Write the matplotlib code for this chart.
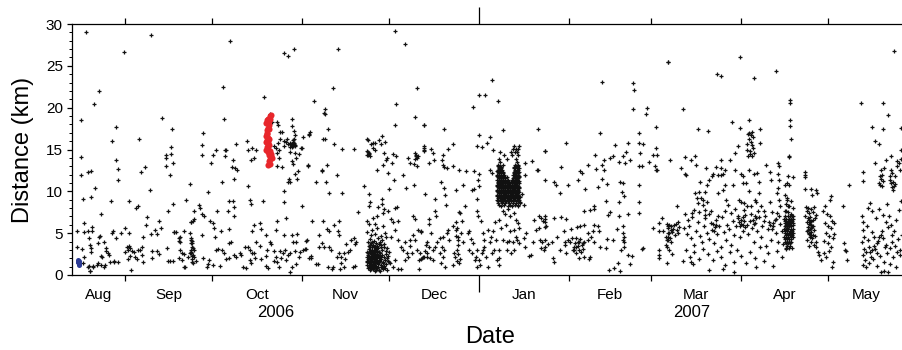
import numpy as np
import pandas as pd
import matplotlib
matplotlib.use("Agg")
import matplotlib.pyplot as plt
import matplotlib.dates as mdates

plt.rcParams["font.family"] = ["Liberation Sans", "DejaVu Sans"]

# event positions: (days after 2006-09-01, distance in km)
aug_sep_events = [
    (-13.3, 29.1), (8.9, 28.7), (-0.2, 26.7), (-8.8, 22.0), (-10.5, 20.4), (-15.2, 18.5), (-2.9, 17.7),
    (12.8, 18.8), (16.2, 17.4), (-4.6, 16.0), (4.8, 16.2), (15.8, 15.3), (15.8, 14.5), (14.2, 14.4),
    (14.2, 14.0), (16.6, 13.4), (14.3, 13.0), (15.7, 12.0), (-15.2, 14.1), (-15.2, 11.9), (-12.8, 12.3),
    (-11.8, 12.4), (-3.2, 13.8), (-2.4, 12.7), (-2.3, 11.3), (7.0, 12.9), (5.7, 12.3), (-10.4, 10.4),
    (8.8, 10.2), (22.4, 10.9), (-14.3, 9.1), (-11.6, 9.3), (-4.9, 8.9), (1.5, 8.8), (4.4, 8.3), (3.8, 8.0),
    (21.1, 9.0), (16.7, 8.5), (14.9, 7.7), (-8.2, 7.3), (7.7, 6.9), (-14.1, 6.2), (11.7, 6.4), (22.6, 6.3),
    (7.3, 6.0), (0.2, 5.6), (-16.4, 5.2), (-14.0, 5.1), (-12.7, 5.2), (-11.4, 5.2), (-11.4, 5.7), (-4.0, 5.2),
    (-4.5, 5.0), (-8.6, 4.7), (-8.9, 4.5), (-1.2, 5.0), (1.4, 5.0), (-2.9, 4.4), (10.4, 5.4), (12.5, 5.6),
    (8.9, 4.9), (11.0, 4.9), (16.9, 5.1), (17.7, 5.1), (20.2, 5.3), (19.0, 4.6), (18.7, 4.1), (6.1, 4.5),
    (-12.2, 4.4), (-16.4, 3.3), (-14.8, 3.1), (-11.9, 3.6), (-11.7, 3.2), (-11.8, 2.7), (-9.2, 3.8),
    (-7.2, 3.9), (-6.6, 3.2), (-6.4, 2.9), (-5.7, 2.6), (-5.4, 2.4), (-7.8, 2.1), (-8.3, 2.3), (-6.7, 1.2),
    (-8.1, 1.2), (-5.0, 1.5), (-3.8, 1.7), (-2.2, 1.5), (-9.4, 1.4), (-10.9, 1.0), (-12.4, 1.1), (-12.0, 0.5),
    (-14.1, 2.2), (-14.3, 1.4), (0.8, 3.4), (1.5, 3.5), (1.9, 3.2), (1.0, 3.0), (2.3, 2.9), (0.1, 2.7),
    (3.1, 2.7), (4.4, 3.0), (5.1, 3.0), (5.9, 3.4), (3.6, 2.1), (1.7, 2.3), (1.0, 1.9), (4.1, 1.9), (6.0, 2.4),
    (6.3, 1.5), (2.2, 0.6), (9.3, 2.9), (10.9, 2.9), (11.8, 2.5), (9.5, 2.0), (14.6, 3.2), (17.0, 5.1),
    (15.0, 1.7), (15.7, 1.7), (16.4, 1.7), (19.1, 3.0), (19.8, 2.6), (20.4, 2.5), (18.5, 2.0), (19.6, 1.8),
    (20.2, 1.0), (20.7, 0.9), (18.8, 4.0), (18.5, 4.4), (21.7, 2.2), (22.5, 2.6), (22.8, 3.0), (22.7, 4.2),
    (22.8, 3.8), (22.5, 5.0), (22.9, 6.3), (-12.7, 0.9), (-11.1, 1.1), (-9.5, 1.2), (-7.2, 1.0), (-3.9, 1.5),
    (-12.1, 0.5),
]

oct_events = [
    (36.2, 28.0), (54.9, 26.5), (56.2, 26.2), (58.2, 27.0), (33.8, 22.5), (47.8, 21.3), (34.1, 18.6),
    (27.0, 17.0), (26.5, 15.5), (26.5, 14.3), (31.2, 15.0), (30.5, 14.4), (29.5, 13.4), (34.3, 15.0),
    (34.8, 15.0), (34.4, 14.2), (38.2, 15.6), (37.2, 13.8), (37.0, 12.9), (37.8, 12.8), (38.7, 12.6),
    (37.4, 11.5), (42.0, 16.0), (43.6, 15.2), (42.5, 14.9), (43.4, 13.8), (44.5, 14.0), (45.2, 14.9),
    (49.9, 19.3), (50.6, 18.3), (52.3, 18.3), (52.8, 17.9), (53.5, 17.1), (54.0, 17.1), (53.5, 16.2),
    (52.7, 15.8), (51.2, 15.4), (52.1, 15.2), (53.0, 15.0), (52.3, 14.6), (53.2, 14.0), (52.3, 13.0),
    (54.0, 12.9), (54.7, 16.0), (55.4, 15.9), (55.9, 16.2), (54.9, 15.4), (56.3, 15.7), (56.9, 15.3),
    (57.7, 15.6), (58.2, 15.8), (58.7, 15.4), (57.8, 16.1), (58.3, 16.3), (57.6, 18.7), (57.6, 17.8),
    (58.2, 17.2), (58.5, 16.7), (56.7, 14.7), (58.5, 14.6), (59.9, 14.5), (61.0, 15.2), (59.0, 14.0),
    (57.4, 13.6), (58.0, 13.3), (56.4, 11.5), (56.0, 11.1), (56.9, 11.1), (58.5, 12.1), (59.3, 11.5),
    (59.5, 12.4), (63.1, 13.0), (63.3, 16.7), (61.4, 16.5), (60.7, 15.2), (57.2, 15.5), (57.5, 15.7),
    (57.9, 15.4), (58.1, 15.6), (57.4, 15.3), (58.0, 15.9), (57.0, 15.8), (58.4, 15.5),
    (33.5, 11.1), (28.6, 9.9), (42.5, 10.6), (35.7, 8.9), (37.2, 8.8), (42.9, 9.0), (43.3, 8.5), (47.5, 8.9),
    (54.7, 8.7), (54.7, 10.0), (60.9, 8.3), (37.6, 8.1), (31.7, 7.6), (35.6, 7.6), (25.5, 8.4), (25.9, 8.0),
    (23.9, 7.7), (26.4, 7.3), (27.1, 7.1), (23.9, 6.7), (23.4, 6.4), (29.4, 6.4), (30.3, 6.2), (30.8, 5.6),
    (26.4, 4.8), (33.0, 5.2), (31.0, 4.6), (36.0, 5.5), (37.6, 7.0), (44.3, 6.0), (46.6, 6.2), (43.6, 5.3),
    (46.7, 5.5), (48.6, 4.8), (52.1, 5.4), (55.5, 6.8), (52.3, 6.5), (54.8, 4.8), (57.5, 4.8), (59.3, 4.9),
    (62.4, 4.1), (58.8, 4.0), (22.8, 4.4), (23.2, 4.1), (23.0, 3.4), (23.7, 3.0), (22.6, 2.6), (23.2, 2.3),
    (23.9, 2.1), (23.0, 1.5), (24.4, 1.7), (26.9, 2.0), (28.3, 0.9), (28.8, 1.8), (30.3, 1.2), (31.2, 3.0),
    (32.2, 3.1), (33.5, 3.0), (34.2, 2.6), (34.7, 1.9), (36.0, 3.8), (36.6, 3.9), (35.7, 2.0), (37.6, 2.4),
    (38.3, 2.2), (39.5, 2.6), (40.1, 2.4), (41.2, 3.4), (42.5, 3.3), (43.1, 3.0), (43.6, 2.6), (42.9, 1.8),
    (43.4, 1.4), (44.5, 2.6), (44.8, 2.0), (45.3, 4.0), (46.4, 3.5), (46.8, 1.9), (48.4, 2.3), (48.9, 3.0),
    (49.8, 3.9), (50.2, 3.7), (51.3, 2.9), (51.9, 2.2), (52.3, 1.6), (53.3, 2.9), (53.6, 2.0), (54.4, 2.6),
    (55.1, 3.0), (55.5, 1.8), (56.2, 2.4), (56.7, 2.6), (57.4, 1.0), (58.0, 4.0), (58.7, 2.9), (60.0, 2.1),
    (60.3, 2.7), (61.2, 3.0), (62.2, 3.1), (63.3, 2.0), (57.0, 0.3), (48.6, 1.1), (41.8, 0.8), (49.3, 0.8),
    (59.0, 1.3), (52.9, 1.0), (51.2, 1.7), (32.6, 1.1), (28.7, 1.3), (40.6, 0.9), (23.0, 3.8), (23.4, 3.2),
    (22.9, 2.8), (23.5, 2.4), (23.1, 1.9), (23.6, 1.4),
]

red_events = [
    (49.8, 19.0), (50.3, 19.1), (50.1, 18.7), (49.4, 18.6), (49.0, 18.5), (49.6, 18.4), (48.7, 18.2),
    (49.2, 17.6), (48.8, 17.3), (49.5, 17.5), (49.0, 17.0), (48.6, 16.6), (49.3, 16.4), (48.9, 16.1),
    (49.6, 16.2), (48.5, 15.9), (49.1, 15.7), (49.7, 15.5), (48.8, 15.3), (49.4, 15.1), (48.6, 14.9),
    (49.2, 14.7), (49.9, 14.8), (49.5, 14.4), (50.4, 14.2), (50.1, 13.9), (49.6, 13.6), (49.9, 13.3),
    (49.3, 13.1), (50.6, 14.0), (50.2, 14.5), (48.9, 16.9), (49.7, 17.9), (49.3, 15.9),
]

blue_events = [(-15.7, 1.7), (-16.3, 1.5), (-15.9, 1.3), (-15.7, 1.2), (-16.1, 1.6), (-15.8, 1.4), (-16.0, 1.8)]

nov_events = [
    (93.1, 29.2), (96.4, 27.6), (73.2, 27.0), (71.6, 22.3), (100.4, 22.4), (65.1, 20.8), (93.4, 20.4),
    (68.8, 19.9), (68.4, 19.4), (69.0, 19.3), (99.8, 18.9), (92.9, 17.9), (102.9, 17.9), (69.9, 17.5),
    (63.8, 17.1), (63.4, 16.8), (68.2, 16.3), (69.0, 16.2), (71.9, 15.7), (74.7, 15.1), (78.9, 15.1),
    (63.0, 13.1), (67.9, 12.6), (68.0, 12.4), (69.7, 13.1), (73.1, 11.9), (65.9, 11.1), (69.1, 11.1),
    (70.1, 9.8), (74.8, 9.8), (82.2, 10.6), (83.4, 16.2), (83.8, 16.1), (83.4, 14.8), (84.1, 14.6),
    (83.7, 14.4), (84.4, 14.2), (84.8, 15.7), (85.5, 15.8), (86.2, 15.8), (87.3, 16.1), (88.5, 16.6),
    (89.6, 15.9), (85.4, 15.2), (86.0, 14.9), (88.0, 15.6), (89.2, 14.6), (90.1, 14.0), (88.7, 13.2),
    (86.9, 12.6), (89.9, 13.8), (91.9, 13.4), (90.4, 12.2), (92.6, 11.3), (95.8, 12.0), (91.0, 10.3),
    (96.7, 10.4), (99.5, 10.7), (92.4, 14.5), (93.4, 14.2), (97.4, 14.0), (98.3, 13.4), (99.6, 13.3),
    (100.4, 13.0), (99.8, 14.6), (100.3, 14.2), (100.8, 14.2), (102.8, 15.0), (103.1, 15.4), (83.6, 14.7),
    (83.9, 14.5), (83.5, 14.3), (100.1, 14.4), (100.5, 14.0), (99.9, 13.9), (84.1, 9.7), (84.5, 8.7),
    (83.9, 8.3), (88.5, 9.1), (88.5, 8.5), (87.1, 8.1), (89.2, 7.9), (90.5, 7.7), (92.8, 8.0), (93.7, 8.1),
    (80.2, 7.5), (64.4, 6.4), (68.2, 6.5), (73.8, 6.4), (83.4, 6.5), (85.4, 6.8), (86.9, 7.1), (88.9, 7.4),
    (86.2, 6.1), (84.1, 6.1), (91.7, 6.7), (92.3, 6.3), (94.0, 6.4), (99.0, 7.1), (99.7, 6.7), (102.0, 5.2),
    (100.8, 5.4), (98.3, 4.2), (99.1, 4.8), (69.7, 5.5), (70.1, 5.2), (72.0, 6.0), (73.4, 5.2), (73.7, 4.8),
    (66.7, 4.8), (62.8, 4.2), (68.0, 3.8), (68.5, 3.4), (66.9, 3.4), (70.8, 3.0), (70.4, 3.3), (64.2, 2.3),
    (64.0, 2.0), (65.9, 1.3), (66.5, 1.3), (69.9, 1.0), (71.3, 0.7), (71.6, 1.0), (73.7, 2.6), (74.3, 2.1),
    (75.4, 2.6), (75.9, 1.9), (77.4, 3.0), (77.9, 4.2), (78.9, 4.4), (79.1, 3.7), (79.7, 3.9), (79.1, 1.1),
    (78.4, 1.0), (76.8, 2.7), (76.2, 3.7), (74.5, 1.4), (75.3, 1.0), (74.0, 0.7), (72.9, 2.2), (62.1, 3.1),
    (91.7, 4.6), (93.1, 5.4), (94.0, 4.2), (95.1, 3.4), (95.8, 3.0), (96.3, 3.9), (97.0, 2.6), (97.6, 2.2),
    (98.0, 3.5), (98.8, 2.6), (99.7, 4.2), (100.4, 3.0), (101.1, 1.8), (102.2, 2.0), (102.9, 2.1),
    (101.4, 0.7), (94.0, 0.7), (95.1, 0.7), (92.3, 1.0), (91.1, 1.4), (96.3, 1.8), (92.8, 1.8),
]

nov_swarm = [
    (83.6, 0.8), (84.2, 0.6), (84.9, 0.9), (85.5, 0.7), (86.1, 0.5), (86.8, 0.8), (87.4, 0.6), (88.0, 0.9),
    (88.7, 0.7), (89.5, 0.8), (90.3, 0.6), (84.5, 1.0), (86.4, 1.0), (87.9, 0.5), (83.2, 1.2), (83.9, 1.4),
    (84.4, 1.1), (84.8, 1.3), (85.3, 1.5), (85.8, 1.2), (86.2, 1.4), (86.6, 1.1), (87.1, 1.3), (87.6, 1.5),
    (88.2, 1.2), (88.8, 1.4), (89.3, 1.1), (90.0, 1.3), (90.8, 1.5), (85.0, 1.1), (86.9, 1.5), (88.5, 1.0),
    (83.4, 1.7), (83.8, 1.9), (84.3, 1.6), (84.7, 1.8), (85.1, 2.0), (85.6, 1.7), (86.0, 1.9), (86.5, 1.6),
    (86.9, 1.8), (87.3, 2.0), (87.8, 1.7), (88.3, 1.9), (88.9, 1.6), (89.4, 1.8), (90.1, 2.0), (90.7, 1.7),
    (84.0, 2.0), (85.9, 1.5), (83.3, 2.2), (83.7, 2.4), (84.1, 2.3), (84.6, 2.5), (85.0, 2.2), (85.5, 2.4),
    (85.9, 2.6), (86.3, 2.2), (86.8, 2.5), (87.2, 2.3), (87.7, 2.6), (88.1, 2.2), (88.6, 2.4), (89.2, 2.1),
    (89.8, 2.5), (90.5, 2.3), (84.9, 2.6), (86.6, 2.1), (83.5, 2.8), (84.0, 3.1), (84.4, 2.9), (84.9, 3.3),
    (85.3, 2.8), (85.8, 3.0), (86.2, 3.4), (86.7, 2.9), (87.1, 3.2), (87.6, 2.8), (88.0, 3.3), (88.6, 3.0),
    (89.1, 3.4), (89.7, 2.9), (90.3, 3.2), (91.0, 2.8), (83.9, 3.5), (85.4, 3.6), (83.6, 3.9), (84.3, 4.3),
    (84.8, 3.8), (85.6, 4.1), (86.4, 3.8), (87.0, 4.4), (87.8, 3.9), (88.5, 4.2), (89.2, 3.7), (90.0, 4.5),
    (84.7, 4.8), (86.2, 4.9), (88.2, 4.7), (89.6, 5.0), (85.1, 5.4), (86.8, 5.6), (88.9, 5.8), (83.2, 5.1),
    (84.6, 1.5), (85.2, 1.9), (85.7, 2.1), (86.1, 2.8), (84.2, 2.7), (85.5, 1.3), (86.4, 2.4), (84.8, 2.1),
    (85.0, 1.7), (86.0, 1.0), (84.0, 1.6), (85.8, 2.8), (83.9, 0.9), (84.7, 0.7), (85.2, 1.2), (85.9, 0.8),
    (86.6, 0.6), (87.1, 1.0), (83.5, 1.5), (84.1, 1.2), (84.5, 2.0), (85.3, 2.3), (85.7, 1.6), (86.3, 1.8),
    (86.9, 2.2), (87.4, 1.7), (83.8, 2.6), (84.3, 3.3), (85.0, 3.0), (85.6, 3.3), (86.0, 2.4), (86.5, 3.1),
    (87.3, 2.7), (87.9, 2.4), (84.5, 3.6), (85.2, 3.9), (86.0, 3.5), (86.8, 3.5), (87.4, 3.7), (88.3, 3.6),
]

dec_jan_events = [
    (126.3, 23.3), (121.8, 21.5), (123.9, 21.5), (128.3, 20.8), (119.8, 20.1), (102.9, 17.9), (109.8, 17.5),
    (130.0, 17.3), (142.1, 17.4), (121.8, 16.7), (125.8, 16.5), (112.9, 15.6), (121.3, 15.4), (122.8, 15.3),
    (124.5, 15.8), (102.8, 15.2), (102.8, 14.8), (105.2, 15.1), (106.0, 14.6), (109.5, 14.4), (109.3, 13.8),
    (109.6, 13.1), (110.0, 12.9), (110.8, 12.8), (104.6, 13.4), (106.4, 13.7), (111.1, 15.1), (113.0, 13.0),
    (115.1, 12.5), (117.4, 12.4), (120.3, 12.4), (121.8, 12.1), (125.7, 12.5), (126.4, 12.2), (126.8, 14.9),
    (129.1, 14.7), (144.5, 14.8), (144.6, 11.3), (141.7, 12.6), (142.2, 12.5), (140.0, 13.6), (137.8, 13.4),
    (137.6, 12.0), (136.8, 9.7), (136.1, 8.7), (137.5, 8.4), (108.8, 11.1), (109.8, 10.4), (110.3, 9.6),
    (113.9, 10.1), (116.3, 10.7), (119.4, 10.2), (120.0, 10.3), (121.7, 11.4), (121.8, 10.6), (103.3, 9.7),
    (106.7, 9.1), (110.4, 8.4), (117.1, 8.3), (121.1, 9.1), (121.1, 7.6), (121.6, 7.1),
    (130.0, 7.7), (131.0, 7.3), (131.9, 7.9), (132.6, 7.0), (134.0, 7.4), (134.6, 6.6), (135.3, 6.2),
    (135.8, 5.6), (133.9, 5.4), (132.6, 5.2), (131.2, 6.0), (128.9, 6.6), (129.4, 5.6), (127.5, 6.3),
    (126.8, 5.2), (124.9, 5.4), (123.2, 5.0), (122.6, 6.4), (123.7, 4.2), (125.5, 4.0), (126.0, 4.6),
    (127.7, 4.2), (128.9, 3.0), (130.0, 4.2), (131.4, 4.0), (132.3, 4.1), (133.5, 3.9), (134.6, 4.5),
    (135.0, 4.2), (135.8, 3.8), (134.0, 3.0), (132.9, 2.6), (131.4, 3.0), (128.9, 2.0), (127.2, 3.0),
    (126.4, 2.6), (128.0, 1.8), (123.4, 3.0), (122.9, 2.6), (122.0, 1.8), (122.2, 1.2), (121.3, 0.9),
    (120.4, 1.8), (119.3, 2.6), (118.4, 3.0), (118.6, 5.3), (116.1, 6.4), (115.4, 7.4), (114.9, 7.5),
    (114.0, 6.3), (113.8, 5.4), (112.9, 5.8), (113.8, 4.7), (114.6, 4.2), (115.7, 5.0), (116.3, 4.0),
    (114.2, 3.0), (113.3, 2.6), (113.5, 2.1), (112.9, 1.2), (114.9, 1.4), (115.4, 1.9), (111.3, 5.4),
    (110.8, 5.0), (111.7, 4.2), (109.4, 4.6), (108.3, 4.4), (107.4, 3.9), (106.7, 3.3), (106.0, 3.0),
    (104.6, 3.4), (103.9, 4.0), (105.3, 5.0), (107.1, 7.0), (106.9, 7.7), (104.8, 6.7), (104.8, 6.1),
    (102.0, 5.1), (101.6, 2.6), (102.5, 2.1), (102.0, 1.9), (103.9, 2.6), (105.1, 2.0), (106.2, 1.8),
    (108.5, 2.6), (109.2, 3.4), (110.0, 3.0), (109.6, 2.1), (108.7, 1.4), (110.1, 1.0), (118.0, 5.0),
    (119.2, 4.3), (119.7, 3.8), (121.1, 3.0), (120.9, 2.2), (124.3, 2.1), (124.9, 1.0), (128.9, 1.2),
    (123.7, 3.4), (139.2, 2.3), (139.8, 2.4), (142.6, 7.1), (143.2, 6.8), (143.8, 6.4), (142.4, 5.6),
    (142.9, 4.2), (143.6, 3.9), (144.4, 3.0), (143.1, 3.2), (144.7, 6.7), (144.9, 5.8), (140.9, 6.6),
    (141.5, 5.4), (140.6, 4.0), (138.1, 5.0), (137.5, 4.4), (137.8, 3.4), (114.5, 3.6), (114.7, 4.6),
    (114.3, 5.6), (114.8, 2.5), (114.4, 1.7), (103.2, 2.9), (103.6, 3.6), (104.0, 2.2),
]

# January swarm, grouped by distance (km): list of days
jan_swarm_rows = [
    (8.2, [129.5, 131.8, 133.2, 135.4]),
    (8.4, [128.9, 130.4, 132.6, 134.1, 135.2]),
    (8.6, [128.4, 129.9, 130.8, 132.1, 133.6, 134.7, 135.9]),
    (8.8, [128.3, 129.4, 130.2, 131.1, 132.0, 132.9, 133.7, 134.5, 135.3]),
    (9.0, [128.1, 129.0, 129.7, 130.5, 131.4, 132.3, 133.0, 133.9, 134.8, 135.6]),
    (9.15, [128.4, 129.4, 130.2, 131.0, 131.8, 132.7, 133.5, 134.4, 135.3]),
    (9.3, [128.6, 129.3, 130.1, 130.9, 131.7, 132.6, 133.4, 134.2, 135.1, 136.0]),
    (9.45, [128.2, 129.0, 129.8, 130.6, 131.4, 132.2, 133.0, 133.9, 134.8, 135.6]),
    (9.6, [128.2, 128.9, 129.6, 130.4, 131.2, 132.0, 132.8, 133.7, 134.5, 135.3]),
    (9.75, [128.6, 129.4, 130.2, 131.0, 131.8, 132.6, 133.4, 134.2, 135.1]),
    (9.9, [128.5, 129.2, 130.0, 130.7, 131.5, 132.4, 133.2, 134.0, 134.9, 135.8]),
    (10.05, [128.2, 128.9, 129.7, 130.5, 131.3, 132.1, 132.9, 133.8, 134.6, 135.4]),
    (10.2, [128.1, 128.8, 129.5, 130.3, 131.0, 131.9, 132.7, 133.5, 134.4, 135.2]),
    (10.35, [128.6, 129.3, 130.1, 130.8, 131.6, 132.4, 133.2, 134.0, 134.9, 135.7]),
    (10.5, [128.4, 129.1, 129.9, 130.6, 131.4, 132.2, 133.0, 133.9, 134.7, 135.6]),
    (10.65, [128.2, 128.9, 129.6, 130.4, 131.1, 131.9, 132.7, 133.5, 134.4, 135.2]),
    (10.8, [128.0, 128.7, 129.4, 130.2, 130.9, 131.7, 132.5, 133.3, 134.2, 135.0]),
    (10.95, [128.5, 129.2, 129.9, 130.7, 131.5, 132.3, 133.1, 133.9, 134.7, 135.5]),
    (11.1, [128.3, 129.0, 129.8, 130.5, 131.3, 132.1, 132.9, 133.7, 134.5, 135.4]),
    (11.25, [128.6, 129.3, 130.1, 130.9, 131.6, 133.1, 134.0, 134.8, 135.6]),
    (11.4, [128.1, 128.8, 129.5, 130.3, 131.0, 131.8, 133.4, 134.3, 135.1]),
    (11.55, [128.6, 129.4, 130.2, 130.9, 133.6, 134.5, 135.3]),
    (11.7, [128.4, 129.2, 129.9, 130.7, 131.5, 133.8, 134.6, 135.5]),
    (11.85, [128.1, 128.8, 129.6, 130.3, 134.1, 134.9, 135.7]),
    (12.0, [128.2, 128.9, 129.6, 130.4, 133.5, 134.3, 135.2]),
    (12.15, [128.6, 129.3, 130.0, 133.8, 134.6, 135.4]),
    (12.3, [128.5, 129.3, 130.1, 134.0, 134.8, 135.7]),
    (12.45, [128.2, 128.9, 129.6, 134.2, 135.0]),
    (12.6, [128.3, 129.0, 129.8, 134.4, 135.3]),
    (12.75, [128.7, 129.5, 134.0, 134.9, 135.6]),
    (12.9, [128.6, 129.4, 133.9, 134.8]),
    (13.05, [128.3, 129.1, 134.5, 135.2]),
    (13.2, [128.4, 130.2, 134.3, 135.4]),
    (13.5, [129.0, 134.9]),
    (13.9, [128.7, 131.5, 134.6]),
    (14.3, [130.4, 133.1, 135.2]),
    (14.7, [132.8, 134.2, 135.0]),
    (15.1, [133.6, 134.5, 135.3]),
    (15.4, [134.0, 135.6]),
]

feb_events = [
    (187.1, 25.5), (164.1, 23.1), (174.8, 23.0), (175.1, 22.1), (175.0, 19.9), (179.7, 20.0), (179.2, 19.3),
    (182.9, 17.7), (163.5, 17.0), (176.8, 17.0), (151.8, 15.8), (144.6, 14.8), (173.0, 15.8), (168.7, 15.5),
    (176.8, 15.8), (178.4, 15.6), (177.4, 14.6), (181.7, 14.4), (183.2, 14.3), (182.7, 15.2), (161.8, 14.4),
    (165.0, 13.7), (166.9, 14.0), (168.1, 14.2), (171.5, 14.2), (172.4, 14.7), (170.1, 13.5), (172.3, 13.4),
    (174.0, 13.8), (159.3, 13.1), (162.0, 12.7), (164.1, 13.1), (164.8, 12.5), (177.0, 13.0), (177.9, 13.0),
    (180.4, 13.5), (182.4, 13.0), (183.0, 12.6), (182.7, 12.5), (150.0, 12.9), (156.8, 12.4), (157.2, 12.2),
    (156.1, 11.4), (147.6, 11.1), (148.5, 10.8), (149.6, 9.8), (152.6, 10.7), (158.4, 10.3), (162.7, 10.5),
    (164.1, 11.5), (165.9, 10.9), (170.3, 11.1), (171.4, 11.0), (176.9, 10.7), (171.1, 9.9), (171.9, 9.4),
    (170.1, 8.7), (165.5, 8.9), (161.6, 8.3), (160.2, 7.8), (157.9, 7.7), (161.4, 7.9), (176.9, 8.7),
    (176.9, 7.4), (173.0, 7.3), (170.1, 7.0), (166.2, 7.2), (167.1, 7.5), (144.6, 7.0), (144.6, 6.3),
    (144.6, 5.7), (147.6, 6.8), (150.1, 6.9), (151.8, 6.7), (151.0, 5.3), (153.6, 5.5), (156.5, 5.9),
    (158.1, 6.0), (155.6, 5.7), (161.6, 6.0), (163.0, 5.9), (163.2, 5.2), (161.1, 5.2), (160.4, 4.6),
    (159.5, 4.2), (158.1, 4.0), (155.9, 4.0), (155.4, 3.4), (154.7, 3.0), (156.3, 3.0), (157.7, 3.1),
    (157.0, 2.7), (155.4, 2.6), (154.3, 3.0), (156.3, 2.0), (158.1, 2.2), (159.7, 1.9), (160.0, 2.1),
    (154.0, 4.4), (152.6, 4.2), (153.1, 3.9), (151.5, 4.0), (149.7, 3.0), (148.8, 4.6), (146.9, 3.9),
    (145.5, 3.7), (144.6, 4.2), (144.6, 3.4), (147.4, 2.0), (147.8, 1.5), (151.7, 2.6), (151.5, 3.6),
    (159.5, 5.0), (161.6, 3.9), (163.6, 3.3), (165.9, 4.3), (165.7, 3.2), (168.0, 4.2), (169.4, 5.5),
    (171.5, 5.8), (171.4, 5.0), (171.7, 4.5), (171.4, 4.2), (171.7, 3.9), (171.9, 3.3), (170.7, 3.0),
    (173.0, 2.4), (174.4, 2.3), (169.8, 1.4), (168.5, 0.8), (166.6, 0.6), (170.3, 0.5), (173.9, 1.3),
    (178.1, 3.1), (178.3, 3.2), (181.7, 5.6), (184.0, 6.2), (184.7, 6.8), (183.8, 5.2), (185.2, 5.2),
    (186.8, 5.8), (187.0, 5.0), (186.8, 4.2), (186.6, 3.4), (183.8, 3.0), (183.8, 2.4), (184.0, 2.0),
    (186.8, 4.6), (155.0, 3.8), (155.8, 3.5), (156.4, 3.9), (157.2, 3.6), (155.3, 4.4), (156.8, 4.3),
    (157.8, 3.8), (154.6, 3.3),
]

mar_events = [
    (186.9, 25.5), (211.8, 26.1), (203.9, 24.0), (205.1, 23.8), (216.6, 23.6), (224.1, 24.4), (192.2, 19.8),
    (209.0, 18.3), (214.9, 18.5), (211.7, 17.6), (218.6, 17.4), (197.4, 17.5), (200.7, 17.2), (214.7, 17.0),
    (215.6, 16.7), (216.3, 16.5), (211.0, 15.4), (209.9, 14.6), (214.0, 15.0), (215.2, 14.8), (216.3, 15.2),
    (218.6, 15.8), (214.6, 14.2), (216.0, 14.2), (187.7, 13.7), (192.9, 14.1), (194.8, 13.8), (196.3, 14.2),
    (196.6, 13.1), (191.3, 12.8), (193.2, 11.9), (192.8, 12.1), (214.9, 16.2), (215.4, 15.9), (215.8, 15.5),
    (215.0, 14.5), (216.6, 14.6), (214.4, 16.8), (215.9, 17.1), (214.2, 15.6),
    (200.1, 12.8), (203.4, 12.9), (205.1, 13.8), (205.3, 12.8), (206.6, 12.6), (208.1, 13.8), (206.0, 12.1),
    (205.3, 11.9), (204.3, 11.9), (202.4, 12.1), (202.0, 11.8), (209.9, 12.5), (211.9, 12.1), (212.9, 11.8),
    (213.8, 11.0), (212.6, 11.0), (214.9, 12.5), (216.5, 12.1), (217.7, 12.2), (220.7, 13.1), (224.9, 13.4),
    (225.0, 13.0), (224.8, 12.1), (225.0, 11.4), (222.0, 12.3), (222.3, 11.4), (228.6, 14.1), (218.1, 11.1),
    (214.8, 10.0), (211.5, 9.0), (218.4, 9.8), (209.4, 10.7), (206.6, 10.7), (204.2, 9.8), (205.8, 10.1),
    (201.2, 11.4), (200.3, 10.8), (198.0, 11.1), (197.7, 9.9), (199.8, 9.9), (196.1, 9.8), (196.8, 9.2),
    (198.4, 9.2), (199.1, 9.0), (200.5, 8.7), (198.9, 8.4), (197.1, 8.6), (199.8, 7.8), (195.9, 7.8),
    (195.2, 7.4), (197.5, 7.5), (190.0, 8.3), (192.9, 7.3), (193.8, 6.6), (195.3, 6.9), (200.9, 7.3),
    (206.9, 9.0), (207.6, 8.4), (210.1, 7.9), (211.9, 8.7), (213.1, 8.6), (214.2, 8.3), (215.6, 8.2),
    (217.0, 9.0), (217.2, 8.7), (219.0, 8.2), (216.8, 7.0), (220.0, 7.6), (222.0, 8.7), (224.8, 10.4),
    (224.5, 9.8), (225.2, 9.0), (225.5, 8.2), (224.5, 7.4), (227.1, 10.7), (228.0, 9.0), (228.2, 8.2),
    (186.5, 6.1), (187.2, 6.0), (188.1, 5.8), (189.0, 6.0), (189.7, 6.1), (190.4, 6.3), (187.0, 5.6),
    (187.9, 5.4), (188.8, 5.5), (189.9, 5.4), (190.6, 5.7), (187.4, 5.0), (188.3, 5.1), (189.5, 4.8),
    (186.3, 4.6), (186.7, 4.2), (187.7, 4.4), (190.2, 5.0), (186.1, 3.6), (187.9, 3.9), (187.2, 3.0),
    (188.3, 2.5), (186.7, 1.4), (192.0, 1.7), (194.8, 1.5), (195.5, 1.3),
    (192.5, 5.6), (193.4, 4.9), (194.1, 5.8), (195.0, 4.4), (195.8, 3.6), (196.5, 5.2), (197.2, 6.3),
    (197.9, 4.7), (198.6, 3.9), (199.3, 5.9), (199.8, 6.8), (200.4, 5.0), (201.0, 4.3), (201.6, 6.2),
    (202.1, 5.4), (202.7, 3.8), (203.3, 6.6), (203.9, 4.9), (204.5, 5.8), (205.0, 3.3), (205.6, 6.9),
    (206.2, 5.1), (206.8, 4.2), (207.4, 6.0), (208.0, 5.5), (208.6, 3.6), (209.2, 6.5), (209.8, 4.8),
    (210.4, 5.9), (211.0, 6.8), (211.6, 4.5), (212.2, 6.1), (212.8, 5.3), (213.4, 7.2), (214.0, 6.0),
    (214.6, 4.9), (215.2, 6.5), (215.8, 5.6), (216.4, 3.9), (217.0, 6.2), (217.6, 5.2), (218.2, 6.9),
    (218.8, 4.6), (219.4, 5.8), (220.0, 6.4), (220.6, 3.5), (221.2, 5.5), (221.8, 6.3), (222.4, 4.2),
    (223.0, 5.9), (223.6, 6.6), (224.2, 5.0), (224.8, 4.0), (225.4, 6.1), (226.0, 5.3), (226.6, 3.7),
    (227.2, 6.4), (227.8, 5.6), (193.0, 3.0), (194.5, 2.2), (196.0, 2.8), (197.6, 1.9), (199.0, 3.1),
    (200.6, 2.5), (202.3, 1.8), (203.8, 2.9), (205.3, 2.1), (206.5, 1.2), (208.2, 2.7), (209.5, 1.6),
    (210.7, 3.0), (212.0, 2.3), (213.7, 1.4), (215.0, 2.8), (216.8, 2.0), (218.5, 3.3), (219.9, 1.7),
    (221.5, 2.6), (223.2, 1.1), (224.6, 2.9), (226.2, 2.2), (227.5, 3.1), (201.2, 0.6), (209.8, 0.4),
    (217.3, 0.9), (205.9, 0.7), (199.6, 7.2), (201.9, 7.6), (204.0, 7.0), (206.4, 7.7), (208.7, 7.4),
    (210.9, 7.0), (213.0, 7.8), (215.5, 7.3), (217.9, 7.6), (220.3, 7.1), (222.7, 7.5), (225.1, 7.0),
    (227.5, 7.7), (211.5, 6.3), (212.1, 6.6), (212.6, 6.0), (213.2, 6.4), (211.8, 5.8), (213.6, 5.7),
    (212.9, 6.9), (202.5, 6.1), (203.0, 5.7), (203.6, 6.0), (202.8, 5.2), (216.1, 6.6), (216.7, 6.1),
    (217.3, 6.8), (222.0, 6.0), (222.6, 5.5), (223.2, 6.2), (224.0, 6.7),
]

apr_may_events = [
    (264.7, 26.8), (229.0, 20.9), (229.0, 20.5), (229.0, 18.5), (229.0, 17.8), (229.4, 16.3), (228.5, 14.2),
    (253.5, 20.5), (260.9, 20.5), (262.6, 19.1), (257.3, 17.7), (260.8, 17.5), (267.0, 17.6), (258.1, 16.0),
    (259.7, 15.7), (267.0, 15.0), (263.6, 14.2), (261.8, 13.8), (265.8, 13.6), (267.0, 13.9), (258.1, 13.4),
    (254.0, 12.3), (254.0, 11.2), (249.1, 10.7), (228.3, 11.8), (228.0, 11.0), (228.5, 10.7), (229.9, 11.7),
    (234.0, 12.3), (234.0, 12.0), (234.0, 11.7), (234.0, 10.3), (236.1, 10.3), (237.9, 10.2), (238.1, 9.8),
    (236.5, 9.6), (242.9, 9.4), (242.7, 9.0), (240.9, 8.2), (247.1, 8.3), (260.1, 12.6), (261.3, 12.8),
    (259.9, 11.8), (259.5, 11.0), (260.6, 10.6), (260.8, 11.2), (263.6, 12.6), (263.3, 11.8), (263.8, 11.0),
    (264.7, 10.6), (264.2, 10.1), (265.8, 13.0), (266.8, 12.6), (266.4, 13.4), (260.3, 11.5), (260.6, 12.0),
    (259.8, 10.7), (263.5, 11.4), (264.0, 12.2), (264.5, 11.1), (263.9, 10.5), (265.2, 10.9), (264.9, 11.8),
    (227.1, 9.6), (228.0, 9.2), (229.3, 8.9), (227.6, 8.5), (228.6, 8.2), (229.9, 8.0), (227.2, 7.7),
    (228.2, 7.5), (229.1, 7.3), (230.0, 7.1),
    (234.3, 8.1), (235.2, 8.0), (236.0, 7.9), (237.3, 8.1), (234.6, 7.6), (235.6, 7.4), (236.7, 7.5),
    (237.8, 7.2), (234.2, 7.0), (235.0, 6.8), (235.9, 6.9), (236.8, 6.6), (237.6, 6.8), (234.8, 6.3),
    (235.5, 6.1), (236.2, 6.4), (236.9, 5.9), (235.1, 5.7), (235.8, 5.5), (236.5, 5.8), (237.3, 5.4),
    (234.6, 5.2), (235.4, 5.0), (236.1, 5.1), (236.8, 4.8), (235.7, 4.6), (236.4, 4.4), (237.6, 4.7),
    (234.9, 4.2), (236.0, 3.9), (237.1, 3.6), (238.0, 3.3), (235.3, 3.5), (238.4, 2.8), (239.0, 2.4),
    (239.6, 1.8), (237.9, 4.0), (235.5, 6.6), (236.3, 6.0), (235.2, 5.4), (236.0, 5.6), (235.6, 4.9),
    (236.3, 4.8), (235.9, 6.3),
    (240.4, 7.6), (241.5, 7.3), (242.6, 7.0), (243.4, 6.5), (240.9, 6.2), (242.0, 5.9), (243.0, 5.6),
    (241.3, 5.0), (242.4, 4.7), (243.6, 4.4), (240.7, 4.1), (241.9, 3.8), (243.1, 3.4), (242.2, 2.9),
    (240.5, 2.6), (241.4, 2.2), (243.8, 1.5), (243.5, 1.0), (244.2, 6.2), (244.0, 4.9), (247.5, 3.8),
    (248.2, 2.9), (247.8, 3.0), (248.5, 1.8),
    (253.7, 7.0), (254.2, 6.3), (253.9, 5.4), (254.5, 4.6), (253.8, 3.9), (254.3, 3.1), (253.9, 2.4),
    (254.6, 1.8), (254.2, 1.2), (255.1, 0.9), (255.3, 5.9), (255.8, 4.2), (256.0, 3.3), (256.4, 2.7),
    (256.9, 2.2), (257.3, 3.0), (257.8, 3.5), (258.3, 3.1), (258.8, 3.8), (259.2, 4.1), (259.7, 4.5),
    (260.2, 4.8), (260.6, 5.3), (261.1, 4.4), (255.6, 8.0), (256.3, 8.6), (257.0, 7.6), (258.4, 6.8),
    (259.5, 7.9), (260.9, 7.2), (262.3, 8.5), (263.0, 7.1), (261.8, 6.3), (262.7, 5.7), (263.8, 6.0),
    (264.6, 5.3), (265.4, 6.6), (266.3, 7.8), (267.2, 8.8), (256.2, 1.4), (257.5, 1.9), (258.9, 1.1),
    (260.0, 2.3), (261.2, 1.6), (262.4, 2.6), (263.5, 1.3), (264.3, 2.1), (265.5, 1.0), (266.7, 2.4),
    (260.4, 0.4), (261.4, 0.5), (262.8, 0.4), (262.1, 3.6), (263.2, 3.2), (264.0, 4.0), (265.0, 3.5),
    (266.0, 4.3), (266.9, 3.0), (267.4, 4.8), (265.7, 2.8), (263.9, 4.8), (261.6, 3.3), (259.0, 2.6),
    (258.0, 4.6), (257.0, 5.1), (255.0, 2.8),
]

# early-April swarm, grouped by distance (km): list of days
apr_swarm_rows = [
    (7.0, [227.3, 228.1, 228.8, 229.6]),
    (6.7, [227.0, 227.7, 228.5, 229.2, 230.0]),
    (6.5, [227.4, 228.2, 228.9, 229.7]),
    (6.2, [227.1, 227.8, 228.6, 229.3, 230.1]),
    (6.0, [227.5, 228.3, 229.0, 229.8]),
    (5.8, [227.2, 227.9, 228.7, 229.4]),
    (5.5, [227.0, 227.6, 228.4, 229.1, 229.9]),
    (5.3, [227.3, 228.0, 228.8, 229.5]),
    (5.0, [227.1, 227.8, 228.5, 229.2, 230.0]),
    (4.8, [227.4, 228.2, 228.9, 229.6]),
    (4.5, [227.0, 227.7, 228.4, 229.1, 229.8]),
    (4.3, [227.3, 228.0, 228.7, 229.4]),
    (4.0, [227.2, 227.9, 228.6, 229.3]),
    (3.8, [227.5, 228.3, 229.0]),
    (3.5, [227.8, 228.9]),
    (3.2, [227.4, 228.5, 229.6]),
]

month_names = ["Aug", "Sep", "Oct", "Nov", "Dec", "Jan", "Feb", "Mar", "Apr", "May"]
year_names = ["2006", "2007"]


def rows_to_pairs(rows):
    return [(d, km) for km, days in rows for d in days]


black = (aug_sep_events + oct_events + nov_events + nov_swarm + dec_jan_events
         + rows_to_pairs(jan_swarm_rows) + feb_events + mar_events + apr_may_events
         + rows_to_pairs(apr_swarm_rows))

origin = mdates.date2num(np.datetime64("2006-09-01"))


def to_xy(pairs):
    arr = np.array(pairs, dtype=float)
    return origin + arr[:, 0], arr[:, 1]


fig = plt.figure(figsize=(9.03, 3.5), dpi=100)
ax = fig.add_axes([72 / 903, 75 / 350, 833 / 903, 251 / 350])

bx, by = to_xy(black)
ax.plot(bx, by, linestyle="none", marker="+", color="#111111", markersize=2.4, markeredgewidth=0.9)
rx, ry = to_xy(red_events)
ax.plot(rx, ry, linestyle="none", marker="o", color="#e8262b", markersize=4.4, markeredgewidth=0)
ux, uy = to_xy(blue_events)
ax.plot(ux, uy, linestyle="none", marker="o", color="#2b3a94", markersize=3.6, markeredgewidth=0)

xmin = origin - 18.2
xmax = origin + 268.5
ax.set_xlim(xmin, xmax)
ax.set_ylim(0, 30)

# month boundaries as minor ticks, the year boundary as a long major tick
new_year = mdates.date2num(np.datetime64("2007-01-01"))
month_starts = pd.date_range("2006-08-01", "2007-06-01", freq="MS")
month_nums = mdates.date2num(month_starts.to_numpy())
ax.set_xticks([new_year])
ax.set_xticks([m for m in month_nums if xmin < m < xmax and m != new_year], minor=True)
ax.set_xticklabels([])
ax.tick_params(axis="x", which="major", length=12, width=0.9, direction="out", top=True, bottom=True)
ax.tick_params(axis="x", which="minor", length=4.5, width=0.9, direction="out", top=True, bottom=True)

ax.set_yticks(np.arange(0, 31, 5))
ax.set_yticks(np.arange(0, 31, 1), minor=True)
ax.tick_params(axis="y", which="major", length=3.6, width=0.9, direction="out", labelsize=11, pad=3)
ax.tick_params(axis="y", which="minor", length=2.2, width=0.7, direction="out")

for side in ["left", "top", "bottom"]:
    ax.spines[side].set_linewidth(0.9)
ax.spines["right"].set_visible(False)

# month labels centred on the visible part of each month
trans = ax.get_xaxis_transform()
for i, name in enumerate(month_names):
    lo = max(month_nums[i], xmin)
    hi = min(month_nums[i + 1], xmax)
    ax.text((lo + hi) / 2, -0.08, name, transform=trans, ha="center", va="center", fontsize=11)

year_bounds = mdates.date2num(np.array(["2006-01-01", "2007-01-01", "2008-01-01"], dtype="datetime64[D]"))
for i, name in enumerate(year_names):
    lo = max(year_bounds[i], xmin)
    hi = min(year_bounds[i + 1], xmax)
    ax.text((lo + hi) / 2, -0.148, name, transform=trans, ha="center", va="center", fontsize=12)

fig.text(490 / 903, 13 / 350, "Date", ha="center", va="center", fontsize=17)
fig.text(23 / 903, 200 / 350, "Distance (km)", ha="center", va="center", rotation=90, fontsize=17)

fig.savefig("out.png", dpi=100)
